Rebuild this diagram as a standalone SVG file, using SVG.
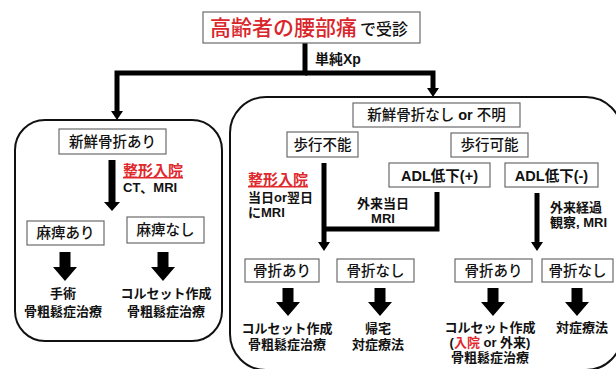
<svg xmlns="http://www.w3.org/2000/svg" width="616" height="369" viewBox="0 0 616 369">
<style>
text{font-family:"Liberation Sans","Noto Sans CJK JP",sans-serif;fill:#111}
.bx{fill:#fff;stroke:#6b6b6b;stroke-width:1.2}
.lb{font-size:14.5px;font-weight:500}
.lbb{font-size:14.5px;font-weight:bold}
.nt{font-size:13px;font-weight:bold}
.rd{fill:#e0282d;font-weight:bold}
.big{fill:#000}
.ln{fill:none;stroke:#000;stroke-width:5}
.rbox{fill:none;stroke:#111;stroke-width:2}
</style>
<rect width="616" height="369" fill="#fff"/>

<g id="group-left"><rect class="rbox" x="15" y="120" width="207" height="221" rx="30"/></g>
<g id="group-right"><rect class="rbox" x="230" y="97" width="392" height="273" rx="36"/></g>

<g id="connectors">
  <polyline class="ln" points="305,43 305,73 117,73 117,112"/>
  <polygon class="big" points="111,111 123,111 117,120"/>
  <polyline class="ln" points="305,73 433,73 433,89"/>
  <polygon class="big" points="427,88 439,88 433,97"/>
  <polygon class="big" points="108.5,160 115.5,160 115.5,202 120,202 112,211 104,202 108.5,202"/>
  <polygon class="big" points="59.5,252 70.5,252 70.5,267 77,267 65,281 53,267 59.5,267"/>
  <polygon class="big" points="157.5,252 168.5,252 168.5,267 175,267 163,281 151,267 157.5,267"/>
  <line x1="324" y1="163" x2="324" y2="243" stroke="#000" stroke-width="5"/>
  <polygon class="big" points="318,242 330,242 324,251"/>
  <polyline class="ln" points="437,192 437,229 324,229"/>
  <line x1="537" y1="193" x2="537" y2="243" stroke="#000" stroke-width="5"/>
  <polygon class="big" points="531,242 543,242 537,251"/>
  <polygon class="big" points="282.5,288 293.5,288 293.5,302 300,302 288,316 276,302 282.5,302"/>
  <polygon class="big" points="374.5,288 385.5,288 385.5,302 392,302 380,316 368,302 374.5,302"/>
  <polygon class="big" points="487.5,288 498.5,288 498.5,302 505,302 493,316 481,302 487.5,302"/>
  <polygon class="big" points="571.5,288 582.5,288 582.5,302 589,302 577,316 565,302 571.5,302"/>
</g>

<g id="title">
  <rect class="bx" x="203" y="12" width="217" height="31"/>
  <text x="210" y="35"><tspan font-size="21" fill="#d9262b" font-weight="500">高齢者の腰部痛</tspan><tspan font-size="16" dx="3" font-weight="500">で受診</tspan></text>
</g>
<g id="label-xp"><text class="nt" x="315" y="64" style="font-size:14px">単純Xp</text></g>

<g id="fresh-yes">
  <rect class="bx" x="59" y="129" width="107" height="25"/>
  <text class="lb" x="112.5" y="147" text-anchor="middle">新鮮骨折あり</text>
</g>
<g id="label-admit-left">
  <text class="rd" x="123" y="176" font-size="15" text-decoration="underline">整形入院</text>
  <text class="nt" x="123" y="192">CT、MRI</text>
</g>
<g id="paralysis-yes">
  <rect class="bx" x="27" y="221" width="77" height="24"/>
  <text class="lb" x="65.5" y="238" text-anchor="middle">麻痺あり</text>
</g>
<g id="paralysis-no">
  <rect class="bx" x="127" y="217" width="77" height="26"/>
  <text class="lb" x="165.5" y="235" text-anchor="middle">麻痺なし</text>
</g>
<g id="res-surgery">
  <text class="nt" x="63" y="298" text-anchor="middle">手術</text>
  <text class="nt" x="63" y="316" text-anchor="middle">骨粗鬆症治療</text>
</g>
<g id="res-corset-left">
  <text class="nt" x="166" y="298" text-anchor="middle">コルセット作成</text>
  <text class="nt" x="166" y="316" text-anchor="middle">骨粗鬆症治療</text>
</g>

<g id="fresh-no">
  <rect class="bx" x="353" y="103" width="167" height="24"/>
  <text class="lb" x="436.5" y="120" text-anchor="middle">新鮮骨折なし <tspan style="font-weight:bold">or</tspan> 不明</text>
</g>
<g id="walk-no">
  <rect class="bx" x="287" y="132" width="71" height="25"/>
  <text class="lb" x="322.5" y="150" text-anchor="middle">歩行不能</text>
</g>
<g id="walk-yes">
  <rect class="bx" x="451" y="133" width="77" height="24"/>
  <text class="lb" x="489.5" y="150" text-anchor="middle">歩行可能</text>
</g>
<g id="adl-plus">
  <rect class="bx" x="389" y="163" width="101" height="24"/>
  <text class="lbb" x="439.5" y="180.5" text-anchor="middle">ADL低下(+)</text>
</g>
<g id="adl-minus">
  <rect class="bx" x="505" y="163" width="93" height="24"/>
  <text class="lbb" x="551.5" y="180.5" text-anchor="middle">ADL低下(-)</text>
</g>
<g id="label-admit-right">
  <text class="rd" x="248" y="185" font-size="15" text-decoration="underline">整形入院</text>
  <text class="nt" x="248" y="202">当日or翌日</text>
  <text class="nt" x="248" y="217">にMRI</text>
</g>
<g id="label-outpatient">
  <text class="nt" x="383" y="208" text-anchor="middle">外来当日</text>
  <text class="nt" x="383" y="223" text-anchor="middle">MRI</text>
</g>
<g id="label-observe">
  <text class="nt" x="550" y="212">外来経過</text>
  <text class="nt" x="550" y="227">観察, MRI</text>
</g>

<g id="fx-yes-1">
  <rect class="bx" x="245" y="259" width="74" height="23"/>
  <text class="lb" x="282" y="276" text-anchor="middle">骨折あり</text>
</g>
<g id="fx-no-1">
  <rect class="bx" x="337" y="259" width="77" height="23"/>
  <text class="lb" x="375.5" y="276" text-anchor="middle">骨折なし</text>
</g>
<g id="fx-yes-2">
  <rect class="bx" x="455" y="259" width="77" height="23"/>
  <text class="lb" x="493.5" y="276" text-anchor="middle">骨折あり</text>
</g>
<g id="fx-no-2">
  <rect class="bx" x="542" y="259" width="71" height="23"/>
  <text class="lb" x="577.5" y="276" text-anchor="middle">骨折なし</text>
</g>

<g id="res-corset-1">
  <text class="nt" x="287" y="333" text-anchor="middle">コルセット作成</text>
  <text class="nt" x="287" y="349" text-anchor="middle">骨粗鬆症治療</text>
</g>
<g id="res-home">
  <text class="nt" x="378" y="333" text-anchor="middle">帰宅</text>
  <text class="nt" x="378" y="349" text-anchor="middle">対症療法</text>
</g>
<g id="res-corset-2">
  <text class="nt" x="490" y="332" text-anchor="middle">コルセット作成</text>
  <text class="nt" x="490" y="347" text-anchor="middle">(<tspan fill="#e0282d">入院</tspan> or 外来)</text>
  <text class="nt" x="490" y="362" text-anchor="middle">骨粗鬆症治療</text>
</g>
<g id="res-symptomatic">
  <text class="nt" x="582" y="332" text-anchor="middle">対症療法</text>
</g>
</svg>
